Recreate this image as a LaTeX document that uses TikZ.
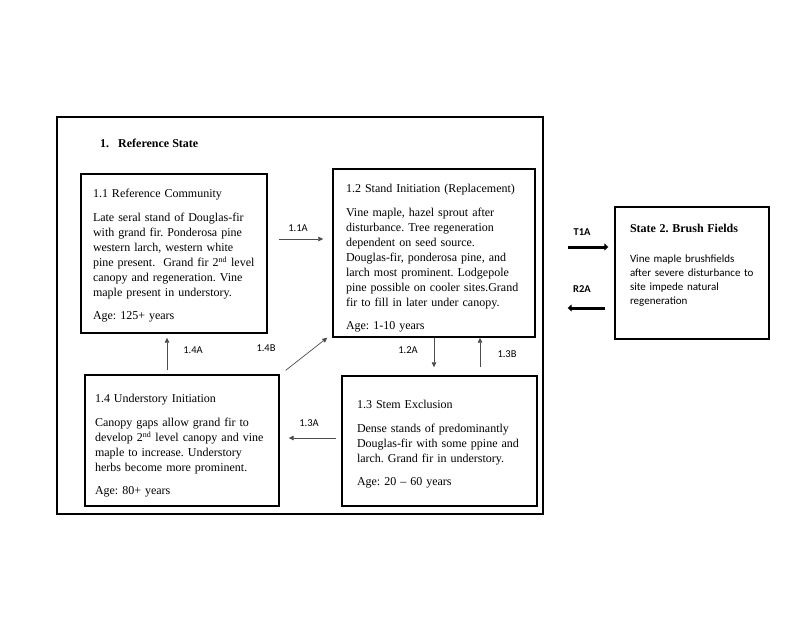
\documentclass[tikz,border=0pt]{standalone}
\usepackage{fontspec}
\setmainfont{Liberation Serif}
\setsansfont{Carlito}
\frenchspacing
\usetikzlibrary{arrows.meta, positioning}
\tikzset{
    phasebox/.style={rectangle, draw, line width=1.4pt, align=left, inner ysep=4pt, font=\fontsize{12}{15}\selectfont},
    statebox/.style={rectangle, draw, line width=1.4pt, align=left, inner xsep=15pt, font=\sffamily\fontsize{11}{14}\selectfont},
    frame/.style={rectangle, draw, line width=1.4pt, minimum width=486pt, minimum height=397pt},
    arrow/.style={-{Triangle[length=5pt, width=4.5pt]}, line width=0.7pt, draw=black!70},
    thickarrow/.style={-{Triangle[length=4pt, width=7pt]}, line width=3pt},
    lbl/.style={font=\sffamily\fontsize{10.5}{12}\selectfont, inner sep=1pt}
}
\begin{document}
\begin{tikzpicture}[x=1pt, y=-1pt]
    \useasboundingbox (0,0) rectangle (800,618);
    % State 1 frame
    \node[frame] (ref_state) at (300,315.5) {};
    \node[anchor=base west, inner sep=0pt, font=\bfseries\fontsize{12}{15}\selectfont] (ref_title) at (100,147) {1.\hspace{9pt}Reference State};

    % Community phases
    \node[phasebox, inner xsep=12pt, text width=162pt, minimum width=186pt, minimum height=159pt] (ref_comm) at (174,253.5)
    {\rule{0pt}{12.5pt}1.1 Reference Community\\[9pt]
    Late seral stand of Douglas-fir\\ with grand fir. Ponderosa pine\\ western larch, western white\\
    pine present.\ \ Grand fir 2\textsuperscript{nd} level\\ canopy and regeneration. Vine\\ maple present in understory.\\[8pt]
    Age: 125+ years};
    \node[phasebox, inner xsep=13pt, text width=176pt, minimum width=202pt, minimum height=168pt] (stand_init) at (434,253)
    {\rule{0pt}{19pt}1.2 Stand Initiation (Replacement)\\[9pt]
    Vine maple, hazel sprout after\\ disturbance. Tree regeneration\\ dependent on seed source.\\
    Douglas-fir, ponderosa pine, and\\ larch most prominent. Lodgepole\\ pine possible on cooler sites.Grand\\
    fir to fill in later under canopy.\\[8pt]
    Age: 1-10 years};
    \node[phasebox, inner xsep=15pt, text width=165pt, minimum width=195pt, minimum height=130pt] (stem_excl) at (439.5,441)
    {\rule{0pt}{14.5pt}1.3 Stem Exclusion\\[9pt]
    Dense stands of predominantly\\ Douglas-fir with some ppine and\\ larch. Grand fir in understory.\\[8pt]
    Age: 20 -- 60 years};
    \node[phasebox, inner xsep=10pt, text width=174pt, minimum width=194pt, minimum height=131pt] (under_init) at (182,440.5)
    {\rule{0pt}{18.5pt}1.4 Understory Initiation\\[9pt]
    Canopy gaps allow grand fir to\\ develop 2\textsuperscript{nd} level canopy and vine\\
    maple to increase. Understory\\ herbs become more prominent.\\[8pt]
    Age: 80+ years};

    % State 2
    \node[statebox, text width=124pt, minimum width=154pt, minimum height=132pt] (brush_fields) at (692,273)
    {{\rmfamily\bfseries\fontsize{12}{14}\selectfont State 2. Brush Fields}\\[16pt]
    Vine maple brushfields\\ after severe disturbance to\\ site impede natural\\ regeneration\\[4pt]\mbox{}};

    % Pathways
    \draw[arrow] ([shift={(11,-14.5)}]ref_comm.east) -- ([shift={(-9,-14)}]stand_init.west)
        node[lbl, midway, shift={(-3,-11)}] {1.1A};
    \draw[arrow] (stand_init.south) -- ([shift={(-5.5,-8)}]stem_excl.north)
        node[lbl, midway, shift={(-26,-2.5)}] {1.2A};
    \draw[arrow] ([shift={(40.5,-8)}]stem_excl.north) -- ([shift={(46,0)}]stand_init.south)
        node[lbl, midway, shift={(27,1.5)}] {1.3B};
    \draw[arrow] ([shift={(-5,-3)}]stem_excl.west) -- ([shift={(9,-2.5)}]under_init.east)
        node[lbl, midway, shift={(-3.5,-15)}] {1.3A};
    \draw[arrow] ([shift={(-15,-4)}]under_init.north) -- ([shift={(-7,4)}]ref_comm.south)
        node[lbl, midway, shift={(26,-4)}] {1.4A};
    \draw[arrow] ([shift={(6,-4)}]under_init.north east) -- ([shift={(-5,0)}]stand_init.south west)
        node[lbl, midway, shift={(-40.5,-6)}] {1.4B};

    % Transitions
    \draw[thickarrow] ([shift={(32,-6)}]stand_init.east) -- ([shift={(-6,-26)}]brush_fields.west)
        node[lbl, font=\sffamily\bfseries\fontsize{10.5}{12}\selectfont, midway, shift={(-6,-15)}] {T1A};
    \draw[thickarrow] ([shift={(-9,35)}]brush_fields.west) -- ([shift={(32,55)}]stand_init.east)
        node[lbl, font=\sffamily\bfseries\fontsize{10.5}{12}\selectfont, midway, shift={(-4.5,-19)}] {R2A};
\end{tikzpicture}
\end{document}
